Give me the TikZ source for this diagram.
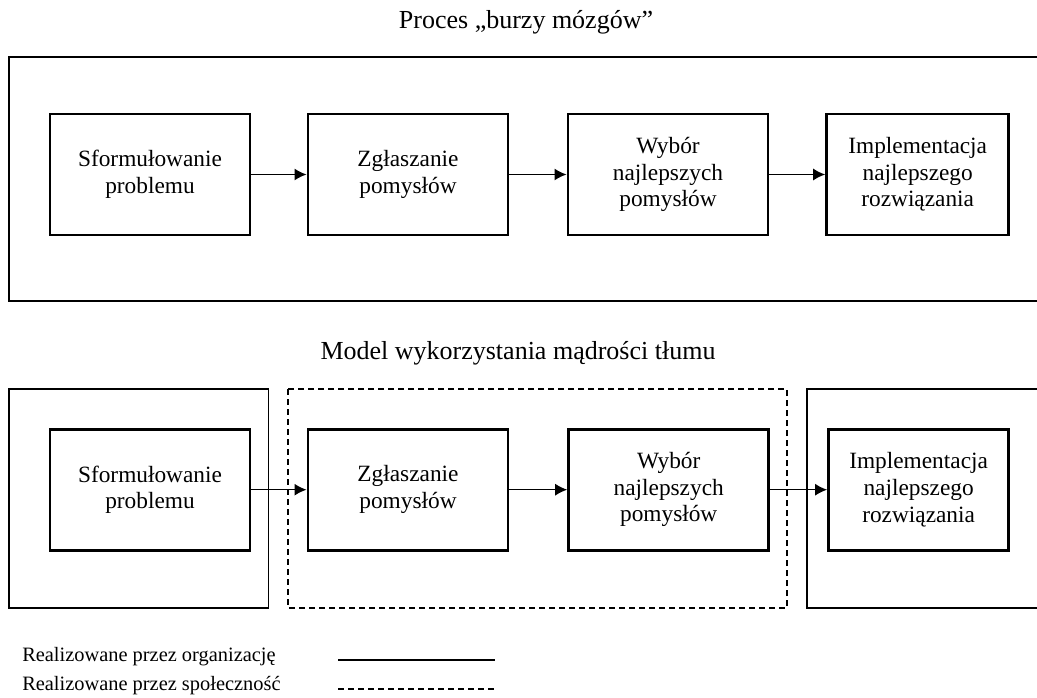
\documentclass[tikz,border=0pt]{standalone}
\usepackage{fontspec}
\setmainfont{Liberation Serif}
\usetikzlibrary{arrows.meta}
\begin{document}
\begin{tikzpicture}[x=0.75pt,y=-0.75pt,
  stepbox/.style={draw,line width=2.2pt,align=center,inner sep=0pt,
    minimum width=150pt,minimum height=90.75pt,
    font=\fontsize{17.5}{20}\selectfont},
  framesolid/.style={line width=0.9pt},
  framedash/.style={line width=0.9pt,dash pattern=on 4.5pt off 3pt},
  flow/.style={line width=1.1pt,-{Latex[length=9pt,width=9pt]}},
  titletext/.style={inner sep=0pt,font=\fontsize{19.5}{22}\selectfont},
  legendtext/.style={inner sep=0pt,anchor=west,font=\fontsize{15.3}{17}\selectfont}]
\useasboundingbox (0,0) rectangle (1037,698);
% titles
\node[titletext] (t1) at (526,22) {Proces „burzy mózgów”};
\node[titletext] (t2) at (518,353) {Model wykorzystania mądrości tłumu};
% top frame
\draw[framesolid] (1037,57) -- (9,57) -- (9,301) -- (1037,301);
% row 1
\node[stepbox] (a1) at (150,174.5) {Sformułowanie\\problemu};
\node[stepbox] (a2) at (408,174.5) {Zgłaszanie\\pomysłów};
\node[stepbox] (a3) at (668,174.5) {Wybór\\najlepszych\\pomysłów};
\node[stepbox,minimum width=136.5pt] (a4) at (917.7,174.5) {Implementacja\\najlepszego\\rozwiązania};
\draw[flow] (a1) -- (a2);
\draw[flow] (a2) -- (a3);
\draw[flow] (a3) -- (a4);
% bottom frames
\draw[framesolid] (9,389) rectangle (268.5,608);
\draw[framedash] (288,389) rectangle (787,608);
\draw[framesolid] (1037,389) -- (807,389) -- (807,608) -- (1037,608);
% row 2
\node[stepbox] (b1) at (150,489.7) {Sformułowanie\\problemu};
\node[stepbox] (b2) at (408,489.7) {Zgłaszanie\\pomysłów};
\node[stepbox] (b3) at (668.7,489.7) {Wybór\\najlepszych\\pomysłów};
\node[stepbox,minimum width=135pt] (b4) at (918.6,489.7) {Implementacja\\najlepszego\\rozwiązania};
\draw[flow] (b1) -- (b2);
\draw[flow] (b2) -- (b3);
\draw[flow] (b3) -- (b4);
% legend
\node[legendtext] (l1) at (22,657) {Realizowane przez organizację};
\node[legendtext] (l2) at (22,686) {Realizowane przez społeczność};
\coordinate (s1) at (338,660);
\coordinate (s2) at (495,660);
\coordinate (d1) at (338,689);
\coordinate (d2) at (495,689);
\draw[line width=1pt] (s1) -- (s2);
\draw[line width=1pt,dash pattern=on 4.5pt off 3pt] (d1) -- (d2);
\end{tikzpicture}
\end{document}
